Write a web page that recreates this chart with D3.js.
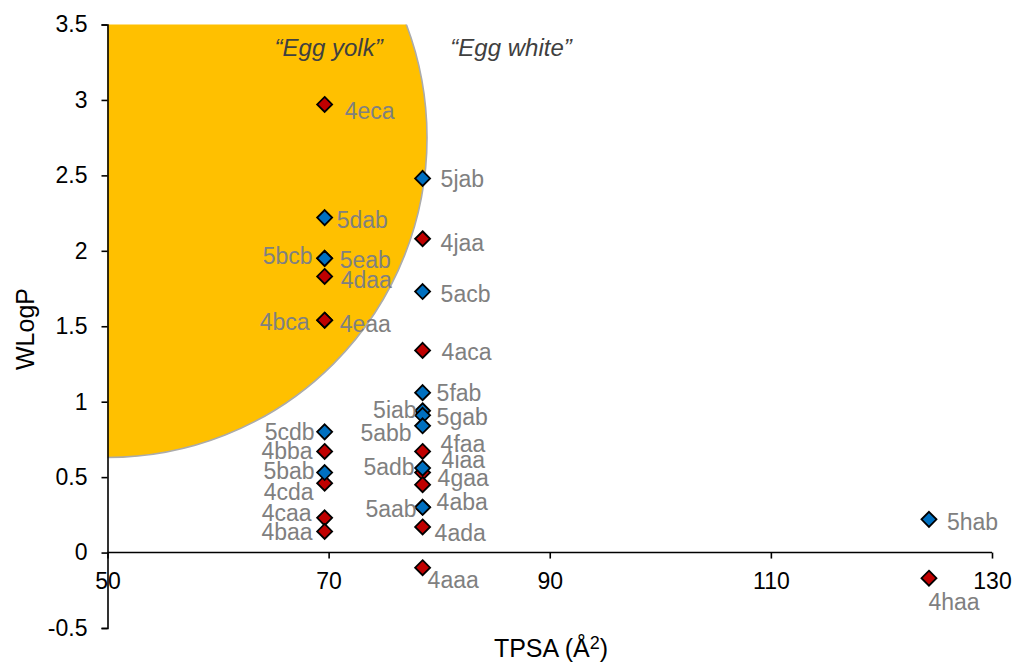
<!DOCTYPE html>
<html>
<head>
<meta charset="utf-8">
<script src="https://cdn.jsdelivr.net/npm/d3@7"></script>
<style>
  body { margin: 0; background: #fff; }
  svg { font-family: "Liberation Sans", Arial, sans-serif; }
</style>
</head>
<body>
<svg id="chart" width="1016" height="662"></svg>
<script>
'use strict';

// x: TPSA, y: WLogP
const xTicks = [50, 70, 90, 110, 130];
const yTicks = [-0.5, 0, 0.5, 1, 1.5, 2, 2.5, 3, 3.5];

// red series (4xxx)
const names4 = ['4eca', '4daa', '4bca', '4eaa', '4bba', '4cda', '4caa', '4baa',
  '4jaa', '4aca', '4faa', '4iaa', '4gaa', '4aba', '4ada', '4aaa', '4haa'];
const tpsa4 = [69.64, 69.64, 69.64, 69.64, 69.64, 69.64, 69.64, 69.64,
  78.5, 78.5, 78.5, 78.5, 78.5, 78.5, 78.5, 78.5, 124.3];
const wlogp4 = [2.97, 1.83, 1.54, 1.54, 0.67, 0.46, 0.23, 0.14,
  2.08, 1.34, 0.67, 0.53, 0.45, 0.30, 0.17, -0.10, -0.17];

// blue series (5xxx)
const names5 = ['5dab', '5bcb', '5eab', '5cdb', '5bab', '5jab', '5acb', '5fab',
  '5iab', '5gab', '5abb', '5adb', '5aab', '5hab'];
const tpsa5 = [69.64, 69.64, 69.64, 69.64, 69.64, 78.5, 78.5, 78.5,
  78.5, 78.5, 78.5, 78.5, 78.5, 124.3];
const wlogp5 = [2.22, 1.95, 1.95, 0.80, 0.53, 2.48, 1.73, 1.06,
  0.94, 0.91, 0.84, 0.56, 0.30, 0.22];

// yolk ellipse in data units (centre, radii)
const yolk = { tpsa: 50, wlogp: 2.75, rTpsa: 28.9, rWlogp: 2.12 };

// label placement: [anchor, dx, dy] in px from the marker
const labelPos = {
  '4eca': ['start', 20, 6], '5dab': ['start', 12, 2], '5bcb': ['end', -12, -2],
  '5eab': ['start', 15, 2], '4daa': ['start', 16, 3], '4bca': ['end', -15, 2],
  '4eaa': ['start', 15, 4], '5cdb': ['end', -10, 0], '4bba': ['end', -12, -1],
  '5bab': ['end', -10, -2], '4cda': ['end', -11, 9], '4caa': ['end', -13, -5],
  '4baa': ['end', -12, 1],
  '5jab': ['start', 18, 1], '4jaa': ['start', 18, 4], '5acb': ['start', 18, 2],
  '4aca': ['start', 19, 2], '5fab': ['start', 14, 0], '5iab': ['end', -6, -1],
  '5gab': ['start', 14, 2], '5abb': ['end', -11, 7], '4faa': ['start', 18, -8],
  '5adb': ['end', -8, -1], '4iaa': ['start', 19, -13], '4gaa': ['start', 15, -7],
  '5aab': ['end', -6, 2], '4aba': ['start', 14, -5], '4ada': ['start', 12, 6],
  '4aaa': ['start', 5, 12],
  '5hab': ['start', 18, 3], '4haa': ['middle', 25, 24]
};

const svg = d3.select('#chart');
const x = d3.scaleLinear().domain([50, 130]).range([107.5, 992]);
const y = d3.scaleLinear().domain([-0.5, 3.5]).range([628, 24.5]);

// clip for the egg yolk
svg.append('defs').append('clipPath').attr('id', 'plotclip')
  .append('rect')
  .attr('x', x(50)).attr('y', y(3.5))
  .attr('width', x(130) - x(50)).attr('height', y(-0.5) - y(3.5));

svg.append('ellipse')
  .attr('clip-path', 'url(#plotclip)')
  .attr('cx', x(yolk.tpsa))
  .attr('cy', y(yolk.wlogp))
  .attr('rx', x(yolk.tpsa + yolk.rTpsa) - x(yolk.tpsa))
  .attr('ry', y(yolk.wlogp - yolk.rWlogp) - y(yolk.wlogp))
  .attr('fill', '#FFC000')
  .attr('stroke', '#ababab')
  .attr('stroke-width', 1.6);

// annotations
const note = svg.append('g')
  .attr('font-style', 'italic').attr('font-size', 24).attr('fill', '#404040')
  .attr('text-anchor', 'middle');
note.append('text').attr('x', x(70)).attr('y', y(3.35)).attr('dy', '0.35em')
  .text('\u201CEgg yolk\u201D');
note.append('text').attr('x', x(86.5)).attr('y', y(3.35)).attr('dy', '0.35em')
  .text('\u201CEgg white\u201D');

// axes
const yAxis = svg.append('g')
  .attr('transform', `translate(${x(50)},0)`)
  .call(d3.axisLeft(y).tickValues(yTicks).tickSize(6).tickSizeOuter(6).tickPadding(14)
    .tickFormat((d) => String(d)));
const xAxis = svg.append('g')
  .attr('transform', `translate(0,${y(0)})`)
  .call(d3.axisBottom(x).tickValues(xTicks).tickSize(6).tickSizeOuter(0).tickPadding(14)
    .tickFormat((d) => String(d)));

[yAxis, xAxis].forEach((g) => {
  g.selectAll('path, line').attr('stroke', '#000').attr('stroke-width', 1.6);
  g.selectAll('text').attr('font-size', 23).attr('fill', '#000')
    .attr('font-family', '"Liberation Sans", Arial, sans-serif');
});
xAxis.select('.domain').attr('d', `M${x(50)},0H${x(130)}`);
xAxis.selectAll('text').attr('dy', '0.7em');

// axis titles
svg.append('text')
  .attr('transform', 'translate(25,329) rotate(-90)')
  .attr('text-anchor', 'middle').attr('dy', '0.35em')
  .attr('font-size', 25).text('WLogP');
const xt = svg.append('text')
  .attr('x', 551).attr('y', 648)
  .attr('text-anchor', 'middle').attr('dy', '0.35em')
  .attr('font-size', 25);
xt.append('tspan').text('TPSA (\u00C5');
xt.append('tspan').attr('font-size', 18).attr('dy', '-0.45em').text('2');
xt.append('tspan').attr('dy', '0.32em').text(')');

// markers
const diamond = 'M0,-7.5L7.5,0L0,7.5L-7.5,0Z';
function drawSeries(names, tpsa, wlogp, color) {
  svg.append('g').selectAll('path')
    .data(names.map((n, i) => ({ n, tx: tpsa[i], ty: wlogp[i] })))
    .join('path')
    .attr('d', diamond)
    .attr('transform', (d) => `translate(${x(d.tx)},${y(d.ty)})`)
    .attr('fill', color)
    .attr('stroke', '#000')
    .attr('stroke-width', 1.8);
}
drawSeries(names4, tpsa4, wlogp4, '#C00000');
drawSeries(names5, tpsa5, wlogp5, '#0070C0');

// point labels
const allPts = names4.map((n, i) => ({ n, tx: tpsa4[i], ty: wlogp4[i] }))
  .concat(names5.map((n, i) => ({ n, tx: tpsa5[i], ty: wlogp5[i] })));
svg.append('g')
  .attr('font-size', 23).attr('fill', '#808080')
  .selectAll('text')
  .data(allPts)
  .join('text')
  .attr('x', (d) => x(d.tx) + labelPos[d.n][1])
  .attr('y', (d) => y(d.ty) + labelPos[d.n][2])
  .attr('dy', '0.35em')
  .attr('text-anchor', (d) => labelPos[d.n][0])
  .text((d) => d.n);
</script>
</body>
</html>
